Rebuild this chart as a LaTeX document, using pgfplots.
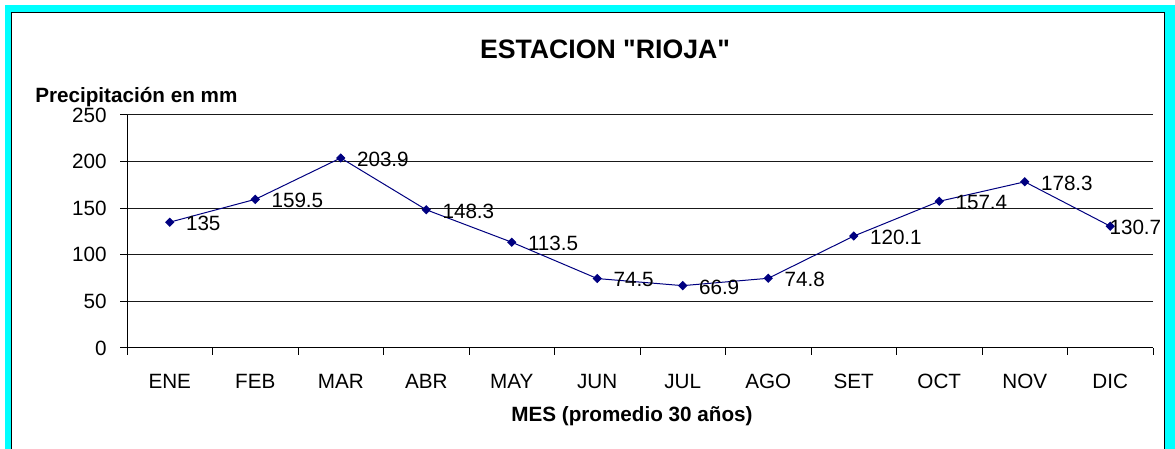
\documentclass[border=0pt]{standalone}
\usepackage{pgfplots}
\pgfplotsset{compat=1.18}
\usepackage{fontspec}
\setmainfont{Liberation Sans}
\newfontfamily\titlefont{Liberation Sans}[Ligatures=TeXOff]
\definecolor{navyline}{RGB}{0,0,128}
\definecolor{framecyan}{RGB}{0,255,255}
\begin{document}
\begin{tikzpicture}
\begin{scope}[x=0.75pt,y=0.75pt]
\useasboundingbox (0,0) rectangle (1175,449);
\fill[white] (0,0) rectangle (1175,449);
\begin{scope}
\clip (0,0) rectangle (1175,449);
\fill[framecyan] (5,-10) rectangle (1175,444);
\filldraw[fill=white, draw=black, line width=0.75pt] (11.5,-10) rectangle (1164.5,436.5);
\end{scope}
\end{scope}
\begin{axis}[
  at={(95.25pt,75.75pt)}, anchor=south west, scale only axis,
  width=769.5pt, height=174.75pt,
  xmin=0.5, xmax=12.5, ymin=0, ymax=250,
  axis x line=bottom, axis y line=left,
  axis line style={-, line width=0.75pt, black},
  xtick={1,...,12},
  xticklabels={ENE,FEB,MAR,ABR,MAY,JUN,JUL,AGO,SET,OCT,NOV,DIC},
  minor xtick={0.5,1.5,...,12.5},
  ytick={0,50,...,250},
  tick align=outside,
  major tick length=5.25pt, minor tick length=5.25pt,
  major x tick style={draw=none},
  tick style={black, line width=0.75pt},
  ymajorgrids=true,
  grid style={black!90, line width=0.75pt},
  tick label style={font=\fontsize{15.5}{18}\selectfont},
  /pgf/number format/assume math mode=true,
  xticklabel style={yshift=-11pt},
  yticklabel style={xshift=-6.5pt},
  clip=false,
]
\addplot[navyline, line width=0.75pt, mark=square*, mark size=2.1pt, mark options={fill=navyline, draw=navyline, rotate=45}]
coordinates {(1,135) (2,159.5) (3,203.9) (4,148.3) (5,113.5) (6,74.5) (7,66.9) (8,74.8) (9,120.1) (10,157.4) (11,178.3) (12,130.7)};
\addplot[draw=none, mark=none, point meta=explicit symbolic, nodes near coords,
  nodes near coords style={anchor=west, inner sep=0pt, xshift=12pt, yshift=-1pt, font=\fontsize{15.5}{18}\selectfont, text=black}]
coordinates {(1,135) [135] (2,159.5) [159.5] (3,203.9) [203.9] (4,148.3) [148.3] (5,113.5) [113.5] (6,74.5) [74.5] (7,66.9) [66.9] (8,74.8) [74.8] (9,120.1) [120.1] (10,157.4) [157.4] (11,178.3) [178.3]};
\addplot[draw=none, mark=none, point meta=explicit symbolic, nodes near coords,
  nodes near coords style={anchor=west, inner sep=0pt, xshift=-0.75pt, yshift=-1pt, font=\fontsize{15.5}{18}\selectfont, text=black}]
coordinates {(12,130.7) [130.7]};
\end{axis}
\begin{scope}[x=0.75pt,y=0.75pt]
\node[font=\titlefont\fontsize{20}{24}\selectfont\bfseries] at (605,400) {ESTACION "RIOJA"};
\node[anchor=west, inner sep=0pt, font=\fontsize{15.5}{18}\selectfont\bfseries] at (35,352) {Precipitación en mm};
\node[font=\fontsize{15.5}{18}\selectfont\bfseries] at (632,33) {MES (promedio 30 años)};
\end{scope}
\end{tikzpicture}
\end{document}
